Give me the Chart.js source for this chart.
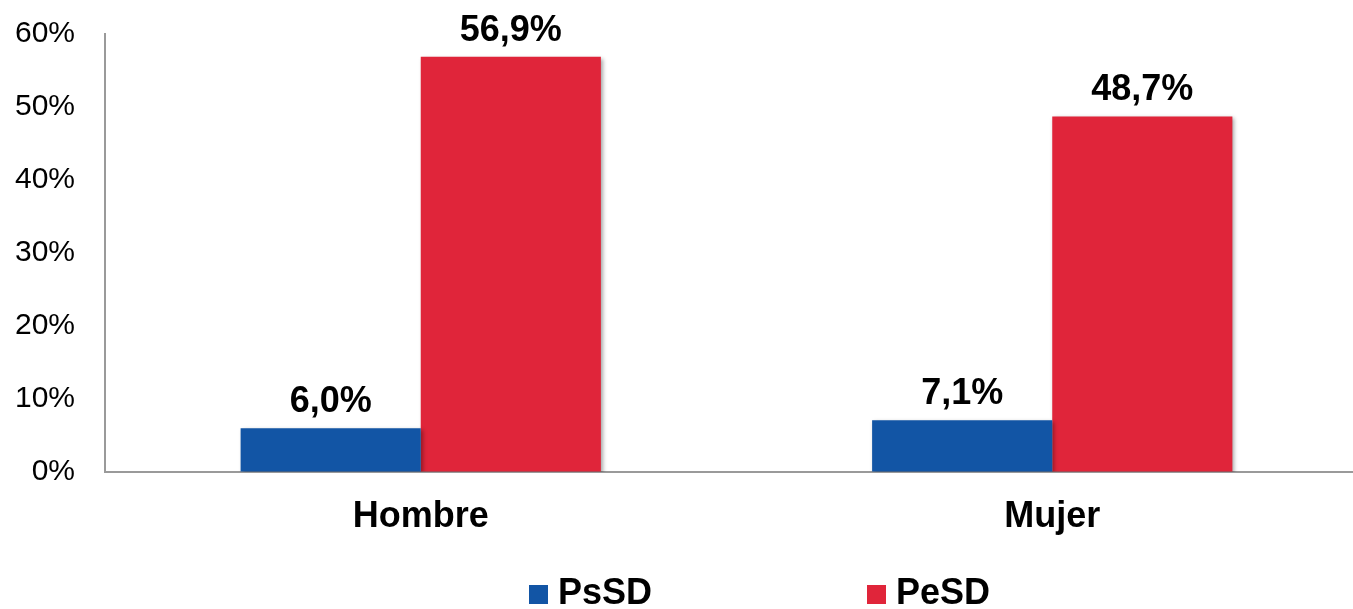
<!DOCTYPE html>
<html>
<head>
<meta charset="utf-8">
<script src="https://cdn.jsdelivr.net/npm/chart.js@4/dist/chart.umd.min.js"></script>
<style>
html,body{margin:0;padding:0;background:#fff;overflow:hidden;}
#wrap{width:1368px;height:609px;position:relative;}
</style>
</head>
<body>
<div id="wrap"><canvas id="c"></canvas></div>
<script>
const categories = ["Hombre", "Mujer"];
const seriesNames = ["PsSD", "PeSD"];
const psSD = [6.0, 7.1];
const peSD = [56.9, 48.7];
const yTicks = [0, 10, 20, 30, 40, 50, 60];
const colors = ["#1255A5", "#E0253A"];

const FONT = "'Liberation Sans', Arial, sans-serif";

const fmt = v => v.toFixed(1).replace('.', ',') + '%';

const labelPlugin = {
  id: 'valueLabels',
  afterDatasetsDraw(chart) {
    const ctx = chart.ctx;
    ctx.save();
    ctx.font = "bold 36px " + FONT;
    ctx.fillStyle = "#000";
    ctx.textAlign = "center";
    ctx.textBaseline = "alphabetic";
    chart.data.datasets.forEach((ds, i) => {
      const meta = chart.getDatasetMeta(i);
      meta.data.forEach((bar, j) => {
        ctx.fillText(fmt(ds.data[j]), bar.x, bar.y - 16);
      });
    });
    ctx.restore();
  }
};

const shadowPlugin = {
  id: 'barShadow',
  beforeDatasetDraw(chart) {
    const ctx = chart.ctx;
    ctx.save();
    ctx.shadowColor = "rgba(0,0,0,0.35)";
    ctx.shadowBlur = 4;
    ctx.shadowOffsetX = 2;
    ctx.shadowOffsetY = 2;
  },
  afterDatasetDraw(chart) {
    chart.ctx.restore();
  }
};

const legendPlugin = {
  id: 'customLegend',
  afterDraw(chart) {
    const ctx = chart.ctx;
    ctx.save();
    ctx.font = "bold 36px " + FONT;
    ctx.textBaseline = "alphabetic";
    ctx.textAlign = "left";
    const startX = [529, 867];
    chart.data.datasets.forEach((ds, i) => {
      const x = startX[i];
      ctx.fillStyle = ds.backgroundColor;
      ctx.fillRect(x, 585, 19, 19);
      ctx.fillStyle = "#000";
      ctx.fillText(ds.label, x + 29, 604);
    });
    ctx.restore();
  }
};

new Chart(document.getElementById('c'), {
  type: 'bar',
  data: {
    labels: categories,
    datasets: [
      { label: seriesNames[0], data: psSD, backgroundColor: colors[0] },
      { label: seriesNames[1], data: peSD, backgroundColor: colors[1] }
    ]
  },
  options: {
    responsive: true,
    maintainAspectRatio: false,
    animation: false,
    devicePixelRatio: 1,
    layout: { padding: { top: 34, left: 0, right: 0, bottom: 0 } },
    datasets: { bar: { categoryPercentage: 0.5705, barPercentage: 1.0, borderWidth: 0 } },
    plugins: {
      legend: { display: false },
      tooltip: { enabled: false }
    },
    scales: {
      x: {
        grid: { color: 'rgba(0,0,0,0)', drawTicks: false },
        border: { display: true, color: '#9a9a9a', width: 2 },
        ticks: { color: '#000', font: { family: FONT, size: 36, weight: 'bold' }, padding: 23 },
        afterFit(scale) { scale.height = 137; scale.paddingTop = 0; }
      },
      y: {
        min: 0,
        max: 60,
        afterBuildTicks(scale) { scale.ticks = yTicks.map(v => ({ value: v })); },
        grid: { color: 'rgba(0,0,0,0)', drawTicks: false },
        border: { display: true, color: '#9a9a9a', width: 2 },
        ticks: {
          color: '#000',
          font: { family: FONT, size: 30 },
          padding: 30,
          callback: v => v + '%'
        },
        afterFit(scale) { scale.width = 105; scale.paddingTop = 0; scale.paddingBottom = 0; }
      }
    }
  },
  plugins: [shadowPlugin, labelPlugin, legendPlugin]
});
</script>
</body>
</html>
